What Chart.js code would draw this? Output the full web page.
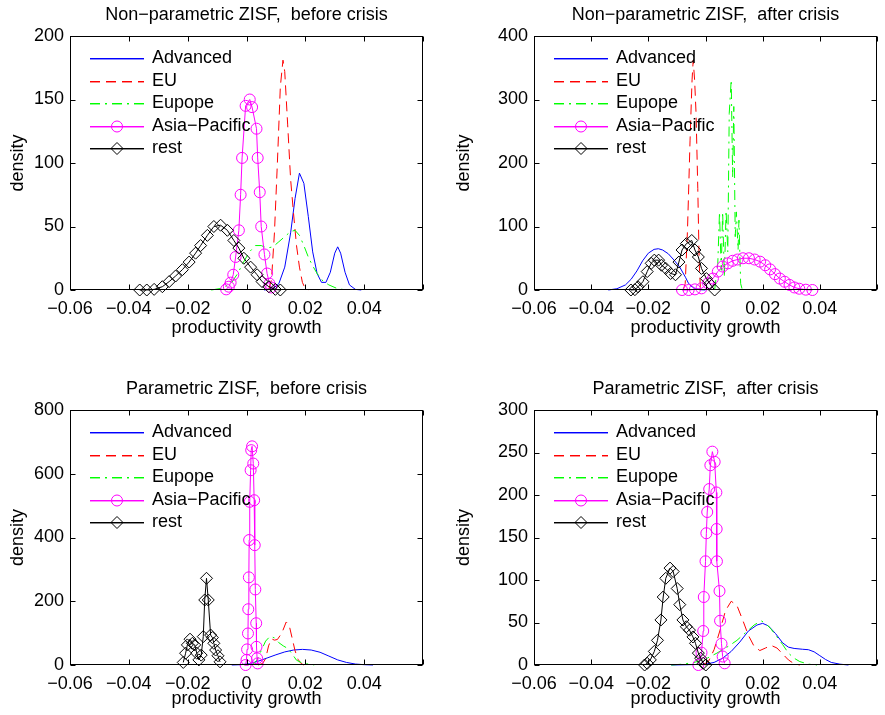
<!DOCTYPE html>
<html>
<head>
<meta charset="utf-8">
<script src="https://cdn.jsdelivr.net/npm/chart.js@4.4.1/dist/chart.umd.min.js"></script>
<style>
  body { margin: 0; background: #fff; width: 885px; height: 715px; position: relative; overflow: hidden; }
  canvas { position: absolute; }
</style>
</head>
<body>
<canvas id="c1" width="440" height="340" style="left:0;top:0"></canvas>
<canvas id="c2" width="439" height="340" style="left:446px;top:0"></canvas>
<canvas id="c3" width="440" height="340" style="left:0;top:375px"></canvas>
<canvas id="c4" width="439" height="340" style="left:446px;top:375px"></canvas>
<script>
// series names as in the legend
const seriesNames = ['Advanced', 'EU', 'Eupope', 'Asia\u2212Pacific', 'rest'];
const xTicks = [-0.06, -0.04, -0.02, 0, 0.02, 0.04, 0.06];

// Non-parametric ZISF, before crisis  [growth, density]
const npBeforeAdvanced = [[0.006,0],[0.009,1],[0.011,5],[0.013,18],[0.015,45],[0.0165,72],[0.018,92],[0.0195,84],[0.021,58],[0.0225,30],[0.024,13],[0.0255,6],[0.027,6],[0.0285,14],[0.030,29],[0.031,34],[0.032,29],[0.0335,14],[0.035,4],[0.037,0.5],[0.039,0]];
const npBeforeEU = [[0.0075,0],[0.0085,8],[0.0095,45],[0.0105,100],[0.0115,160],[0.0124,181],[0.013,172],[0.014,130],[0.015,87],[0.016,60],[0.017,35],[0.018,18],[0.019,6],[0.020,1],[0.021,0]];
const npBeforeEurope = [[-0.012,0],[-0.008,1.5],[-0.005,6],[-0.003,13],[-0.001,22],[0.001,30],[0.003,35],[0.005,35],[0.007,33],[0.009,34],[0.011,38],[0.013,42],[0.015,46],[0.0165,47],[0.018,43],[0.0195,35],[0.021,26],[0.0225,19],[0.024,13],[0.026,7],[0.028,4],[0.031,1],[0.034,0]];
const npBeforeAsia = [[-0.0069,0.5],[-0.0060,2.6],[-0.0054,5.8],[-0.0045,12],[-0.0037,26],[-0.0026,47],[-0.0020,75],[-0.0015,104],[-0.0003,145],[0.0011,150],[0.0019,144],[0.0034,127],[0.0038,104],[0.0045,77],[0.0050,50],[0.0061,28],[0.0070,13],[0.0078,5],[0.0084,2]];
const npBeforeRest = [[-0.0363,0],[-0.0339,0],[-0.0314,0.5],[-0.0286,2.6],[-0.0263,6.6],[-0.0241,11],[-0.0218,16],[-0.0195,22],[-0.0173,29],[-0.0156,35],[-0.0133,43],[-0.0111,50],[-0.0088,51],[-0.0065,47],[-0.0043,39],[-0.0026,33],[-0.0009,25],[0.0014,18],[0.0036,12],[0.0053,6.6],[0.0076,2.6],[0.0098,0.5],[0.0115,0]];

// Non-parametric ZISF, after crisis
const npAfterAdvanced = [[-0.034,0],[-0.031,2],[-0.028,8],[-0.026,17],[-0.024,30],[-0.022,46],[-0.020,58],[-0.018,64],[-0.0165,65],[-0.015,63],[-0.013,57],[-0.011,47],[-0.009,36],[-0.007,20],[-0.006,11],[-0.005,6],[-0.0035,2],[-0.002,0.5],[0,0]];
const npAfterEU = [[-0.0078,0],[-0.0071,10],[-0.0063,94],[-0.0054,236],[-0.0047,331],[-0.0043,362],[-0.0038,330],[-0.0033,278],[-0.0027,160],[-0.0022,42],[-0.0018,5],[-0.0015,0]];
const npAfterEurope = [[0.0032,0],[0.0043,42],[0.0049,123],[0.0055,31],[0.0060,123],[0.0066,20],[0.0072,125],[0.0078,60],[0.0083,278],[0.0090,331],[0.0095,178],[0.0099,289],[0.0104,84],[0.0108,123],[0.0114,63],[0.0117,110],[0.0123,10],[0.0129,0]];
const npAfterAsia = [[-0.0082,0],[-0.0059,0],[-0.0037,1],[-0.0014,2.6],[0.0009,10.5],[0.0026,18],[0.0043,29],[0.006,37],[0.0078,42],[0.0095,46],[0.0112,48],[0.0131,50],[0.0152,50],[0.0172,48],[0.0191,44.6],[0.0209,39],[0.0226,32.5],[0.0243,25],[0.026,18],[0.0277,13],[0.0294,8],[0.0311,4],[0.0328,2],[0.0351,0.5],[0.0374,0]];
const npAfterRest = [[-0.0261,0],[-0.0247,0.5],[-0.0236,5],[-0.0219,13],[-0.0204,29],[-0.019,42],[-0.0179,47],[-0.0164,47],[-0.0154,39],[-0.0139,34],[-0.0122,26],[-0.0105,24],[-0.0093,44],[-0.0082,63],[-0.0067,73],[-0.0048,78],[-0.0037,63],[-0.0025,52],[-0.0014,34],[0.0003,18],[0.0015,10],[0.0032,0]];

// Parametric ZISF, before crisis
const pBeforeAdvanced = [[-0.005,0],[-0.002,1],[0.001,4],[0.004,12],[0.007,22],[0.010,32],[0.013,41],[0.016,47],[0.019,49],[0.022,47],[0.025,40],[0.028,28],[0.031,16],[0.034,8],[0.037,3],[0.040,1],[0.043,0]];
const pBeforeEU = [[0.004,0],[0.0055,5],[0.0065,20],[0.0075,60],[0.0085,82],[0.0095,78],[0.0105,80],[0.012,100],[0.0135,135],[0.0145,125],[0.0155,85],[0.0165,45],[0.0175,18],[0.0185,5],[0.0195,0]];
const pBeforeEurope = [[0.002,0],[0.0035,15],[0.005,45],[0.0065,75],[0.008,90],[0.0095,85],[0.011,70],[0.0125,60],[0.014,52],[0.0155,35],[0.017,15],[0.019,6],[0.021,3],[0.023,0]];
const pBeforeAsia = [[-0.0003,0],[0.0,16],[0.0002,49],[0.0005,99],[0.0006,175],[0.0008,275],[0.0009,392],[0.0011,512],[0.0014,611],[0.0016,674],[0.0019,686],[0.0023,632],[0.0026,517],[0.0028,376],[0.0030,237],[0.0033,131],[0.0034,57],[0.0036,21],[0.0038,5]];
const pBeforeRest = [[-0.0215,8],[-0.0207,37],[-0.0201,63],[-0.0192,81],[-0.0184,68],[-0.0176,63],[-0.0169,37],[-0.0162,16],[-0.0154,31],[-0.0147,89],[-0.0142,204],[-0.0136,272],[-0.013,204],[-0.0122,94],[-0.0116,86],[-0.0111,68],[-0.0105,47],[-0.0097,29],[-0.009,10]];

// Parametric ZISF, after crisis
const pAfterAdvanced = [[-0.012,0],[-0.004,0.5],[0,1],[0.003,3],[0.006,8],[0.009,16],[0.012,27],[0.015,40],[0.018,47],[0.020,49],[0.022,46],[0.0245,37],[0.027,26],[0.029,21],[0.031,19.5],[0.034,18.5],[0.036,18],[0.038,15.5],[0.040,11],[0.042,6.5],[0.044,3],[0.047,1],[0.050,0]];
const pAfterEU = [[-0.001,0],[0.001,4],[0.003,18],[0.005,40],[0.007,64],[0.009,75],[0.011,70],[0.013,53],[0.015,35],[0.017,22],[0.019,17],[0.021,20],[0.023,23],[0.025,20],[0.027,13],[0.029,6],[0.031,1.5],[0.033,0]];
const pAfterEurope = [[-0.012,0],[-0.008,1],[-0.004,3],[0,7],[0.004,14],[0.008,22],[0.011,29],[0.014,38],[0.017,47],[0.0195,52],[0.021,49],[0.023,42],[0.025,33],[0.027,24],[0.029,14],[0.031,8],[0.033,4],[0.036,1],[0.039,0]];
const pAfterAsia = [[-0.0025,0],[-0.0014,14.5],[-0.0008,40],[-0.0006,80],[0.0,122],[0.0003,155],[0.0006,180],[0.0013,207],[0.0017,235],[0.0024,251],[0.0032,239],[0.0038,203],[0.0039,160],[0.004,122],[0.0049,87],[0.0051,52],[0.0056,25],[0.006,10],[0.0067,2]];
const pAfterRest = [[-0.0213,0],[-0.0204,2],[-0.0193,6],[-0.0179,16],[-0.0168,29],[-0.0156,53],[-0.0148,80],[-0.0139,102],[-0.0124,114],[-0.0113,110],[-0.0099,90],[-0.009,71],[-0.0079,53],[-0.0067,45],[-0.0056,41],[-0.0044,33],[-0.0035,25.5],[-0.0025,14],[-0.0017,8],[-0.0008,2],[0.0001,0]];

const styles = [
  { color: '#0000ff', dash: [], marker: null, r: 0 },
  { color: '#ff0000', dash: [10, 6], marker: null, r: 0 },
  { color: '#00ff00', dash: [10, 5, 2, 5], marker: null, r: 0 },
  { color: '#ff00ff', dash: [], marker: 'circle', r: 5.5 },
  { color: '#000000', dash: [], marker: 'rectRot', r: 6 },
];

Chart.defaults.font.family = '"Liberation Sans", Arial, Helvetica, sans-serif';
Chart.defaults.font.size = 18;
Chart.defaults.color = '#000';

function drawMarker(ctx, kind, x, y, r) {
  ctx.beginPath();
  if (kind === 'circle') ctx.arc(x, y, r, 0, Math.PI * 2);
  else { ctx.moveTo(x - r, y); ctx.lineTo(x, y - r); ctx.lineTo(x + r, y); ctx.lineTo(x, y + r); ctx.closePath(); }
  ctx.stroke();
}

// legend sample line: a full row plus a soft row under it, following the dash pattern
function sampleLine(ctx, color, dash, x0, x1, y) {
  const pat = dash.length ? dash : [x1 - x0, 0];
  ctx.fillStyle = color;
  [[y, 1], [y + 1, 0.45]].forEach(([yy, alpha]) => {
    ctx.globalAlpha = alpha;
    let x = x0, k = 0;
    while (x < x1) {
      const len = pat[k % pat.length];
      if (k % 2 === 0) ctx.fillRect(x, yy, Math.min(len, x1 - x), 1);
      x += len; k++;
    }
  });
  ctx.globalAlpha = 1;
}

// matlab style: box, inward ticks, title, legend without frame
const matlabAxes = {
  id: 'matlabAxes',
  afterDraw(chart, args, opts) {
    const { ctx, chartArea: a, scales } = chart;
    const L = Math.round(a.left) + 0.5, R = Math.round(a.right) - 0.5;
    const T = Math.round(a.top) + 0.5, B = Math.round(a.bottom) - 0.5;
    ctx.save();
    ctx.strokeStyle = '#000';
    ctx.lineWidth = 1;
    ctx.setLineDash([]);
    ctx.strokeRect(L, T, R - L, B - T);
    ctx.beginPath();
    scales.x.ticks.forEach(t => {
      const px = Math.round(scales.x.getPixelForValue(t.value)) + 0.5;
      ctx.moveTo(px, B); ctx.lineTo(px, B - 5);
      ctx.moveTo(px, T); ctx.lineTo(px, T + 5);
    });
    scales.y.ticks.forEach(t => {
      const py = Math.round(scales.y.getPixelForValue(t.value)) + 0.5;
      ctx.moveTo(L, py); ctx.lineTo(L + 5, py);
      ctx.moveTo(R, py); ctx.lineTo(R - 5, py);
    });
    ctx.stroke();

    ctx.font = '18px "Liberation Sans", Arial, sans-serif';
    ctx.fillStyle = '#000';
    ctx.textAlign = 'center';
    ctx.textBaseline = 'middle';
    ctx.fillText(opts.title, (a.left + a.right) / 2, a.top - 21);

    ctx.textAlign = 'left';
    seriesNames.forEach((name, i) => {
      const s = styles[i];
      const yy = Math.round(a.top + 22 + i * 22.6);
      const x0 = Math.round(a.left) + 20, x1 = x0 + 54;
      sampleLine(ctx, s.color, s.dash, x0, x1, yy);
      ctx.strokeStyle = s.color;
      ctx.lineWidth = 1;
      if (s.marker) drawMarker(ctx, s.marker, (x0 + x1) / 2, yy + 0.5, s.r);
      ctx.fillStyle = '#000';
      ctx.fillText(name, a.left + 82, yy + 0.5);
    });
    ctx.restore();
  }
};

function xLabel(v) {
  if (Math.abs(v) < 1e-9) return '0';
  if (Math.abs(v - 0.06) < 1e-9) return '';
  return v.toFixed(2).replace('-', '\u2212');
}

const panels = [
  { id: 'c1', title: 'Non\u2212parametric ZISF,  before crisis', yMax: 200, yStep: 50, axisW: 70, pad: { top: 36, right: 17 }, xPadB: 1,
    series: [npBeforeAdvanced, npBeforeEU, npBeforeEurope, npBeforeAsia, npBeforeRest] },
  { id: 'c2', title: 'Non\u2212parametric ZISF,  after crisis', yMax: 400, yStep: 100, axisW: 88, pad: { top: 36, right: 1 }, xPadB: 1,
    series: [npAfterAdvanced, npAfterEU, npAfterEurope, npAfterAsia, npAfterRest] },
  { id: 'c3', title: 'Parametric ZISF,  before crisis', yMax: 800, yStep: 200, axisW: 70, pad: { top: 35, right: 17 }, xPadB: 5,
    series: [pBeforeAdvanced, pBeforeEU, pBeforeEurope, pBeforeAsia, pBeforeRest] },
  { id: 'c4', title: 'Parametric ZISF,  after crisis', yMax: 300, yStep: 50, axisW: 88, pad: { top: 35, right: 1 }, xPadB: 5,
    series: [pAfterAdvanced, pAfterEU, pAfterEurope, pAfterAsia, pAfterRest] },
];

panels.forEach(p => {
  const datasets = p.series.map((pts, i) => {
    const s = styles[i];
    return {
      label: seriesNames[i],
      data: pts.map(([x, y]) => ({ x, y })),
      showLine: true,
      borderColor: s.color,
      borderWidth: 1,
      borderDash: s.dash,
      pointRadius: s.r,
      pointStyle: s.marker || 'circle',
      pointBorderColor: s.color,
      pointBackgroundColor: 'rgba(0,0,0,0)',
      pointBorderWidth: 1,
      tension: 0,
      clip: false,
      order: 4 - i,
    };
  });
  new Chart(document.getElementById(p.id), {
    type: 'scatter',
    data: { datasets },
    options: {
      responsive: false,
      animation: false,
      events: [],
      layout: { padding: { left: 0, top: p.pad.top, right: p.pad.right, bottom: 0 } },
      plugins: {
        legend: { display: false },
        tooltip: { enabled: false },
        matlabAxes: { title: p.title },
      },
      scales: {
        x: {
          type: 'linear', min: xTicks[0], max: xTicks[xTicks.length - 1],
          afterBuildTicks: s => { s.ticks = xTicks.map(v => ({ value: v })); },
          afterFit: s => { s.height = 50; },
          grid: { display: false, drawTicks: false },
          border: { display: false },
          ticks: { padding: 8, maxRotation: 0, autoSkip: false, callback: v => xLabel(v) },
          title: { display: true, text: 'productivity growth', padding: { top: 0, bottom: p.xPadB } },
        },
        y: {
          type: 'linear', min: 0, max: p.yMax,
          afterFit: s => { s.width = p.axisW; },
          grid: { display: false, drawTicks: false },
          border: { display: false },
          ticks: { stepSize: p.yStep, padding: 6 },
          title: { display: true, text: 'density', padding: { top: 7, bottom: 0 } },
        },
      },
    },
    plugins: [matlabAxes],
  });
});
</script>
</body>
</html>
